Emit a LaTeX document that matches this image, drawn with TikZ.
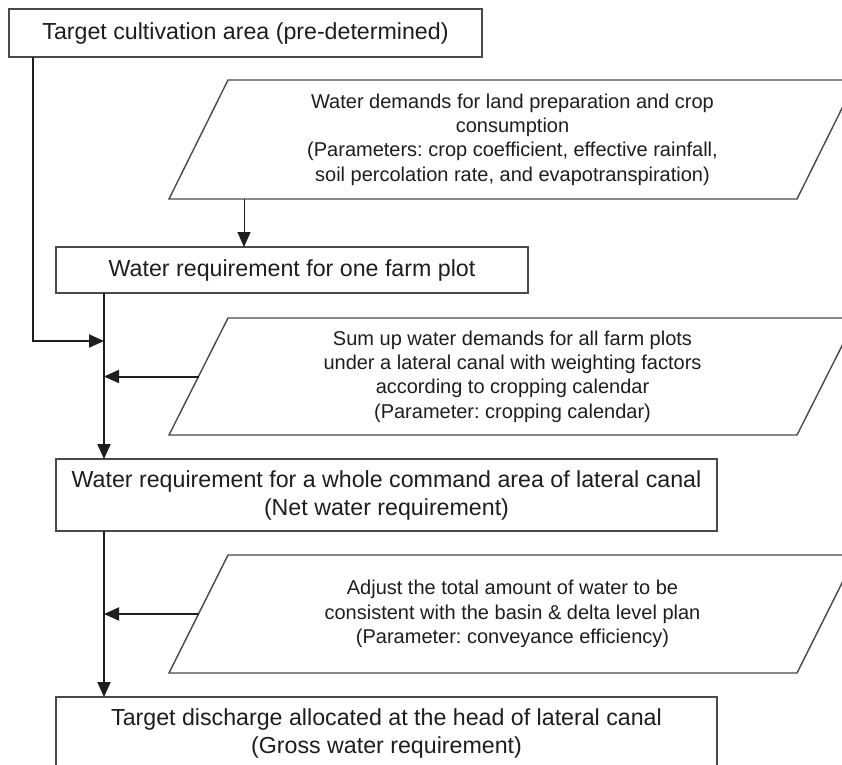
\documentclass[tikz,border=0pt]{standalone}
\usepackage{fontspec}
\setmainfont{Liberation Sans}
\usetikzlibrary{arrows.meta}
\definecolor{edge}{HTML}{4A4A4A}
\definecolor{ink}{HTML}{1E1E1E}
\frenchspacing
\begin{document}
\begin{tikzpicture}[x=1pt,y=-1pt,
  box/.style={draw=edge, line width=1.4pt, rectangle, inner sep=0pt, outer sep=0pt,
    align=center, text=ink, font=\fontsize{23.2}{28}\selectfont},
  para/.style={rectangle, minimum width=628pt, inner sep=0pt, outer sep=0pt,
    align=center, text=ink, font=\fontsize{20}{24.3}\selectfont},
  paraline/.style={draw=edge, line width=1.4pt, line join=miter},
  flow/.style={draw=ink, line width=2pt, -{Triangle[length=15pt,width=13pt]}},
  feed/.style={draw=ink, line width=1pt, -{Triangle[length=15pt,width=13pt]}}]
\fill[white] (0,0) rectangle (842,764);
\useasboundingbox (0,0) rectangle (842,764);

\node[box, minimum width=473pt, minimum height=48pt] (b1) at (245.5,33)
  {Target cultivation area (pre-determined)};
\node[para, minimum height=119pt] (p1) at (512.5,139.5)
  {Water demands for land preparation and crop\\consumption\\(Parameters: crop coefficient, effective rainfall,\\soil percolation rate, and evapotranspiration)};
\node[box, minimum width=472pt, minimum height=46pt] (b2) at (292,270)
  {Water requirement for one farm plot};
\node[para, minimum height=117pt] (p2) at (512.5,376.5)
  {Sum up water demands for all farm plots\\under a lateral canal with weighting factors\\according to cropping calendar\\(Parameter: cropping calendar)};
\node[box, minimum width=661pt, minimum height=72pt] (b3) at (386.5,495)
  {Water requirement for a whole command area of lateral canal\\(Net water requirement)};
\node[para, minimum height=118pt] (p3) at (512.5,614)
  {Adjust the total amount of water to be\\consistent with the basin \& delta level plan\\(Parameter: conveyance efficiency)};
\node[box, minimum width=661pt, minimum height=72pt] (b4) at (386.5,733)
  {Target discharge allocated at the head of lateral canal\\(Gross water requirement)};

% parallelogram outlines of the input nodes
\foreach \p in {p1,p2,p3}
  \draw[paraline] ([xshift=-29.5pt]\p.south west) -- ([xshift=29.5pt]\p.north west)
    -- ([xshift=29.5pt]\p.north east) -- ([xshift=-29.5pt]\p.south east) -- cycle;

\coordinate (m2) at ([xshift=48pt]b2.south west);
\path (m2) ++(0,48) coordinate (j1);

\draw[flow] ([xshift=24pt]b1.south west) |- (j1);
\draw[feed] ([xshift=45.5pt]p1.south west) -- ([xshift=188pt]b2.north west);
\draw[flow] (m2) -- ([xshift=48pt]b3.north west);
\draw[flow] (p2.west) -- (p2.west -| m2);
\draw[flow] ([xshift=48pt]b3.south west) -- ([xshift=48pt]b4.north west);
\draw[flow] (p3.west) -- (p3.west -| m2);
\end{tikzpicture}
\end{document}
